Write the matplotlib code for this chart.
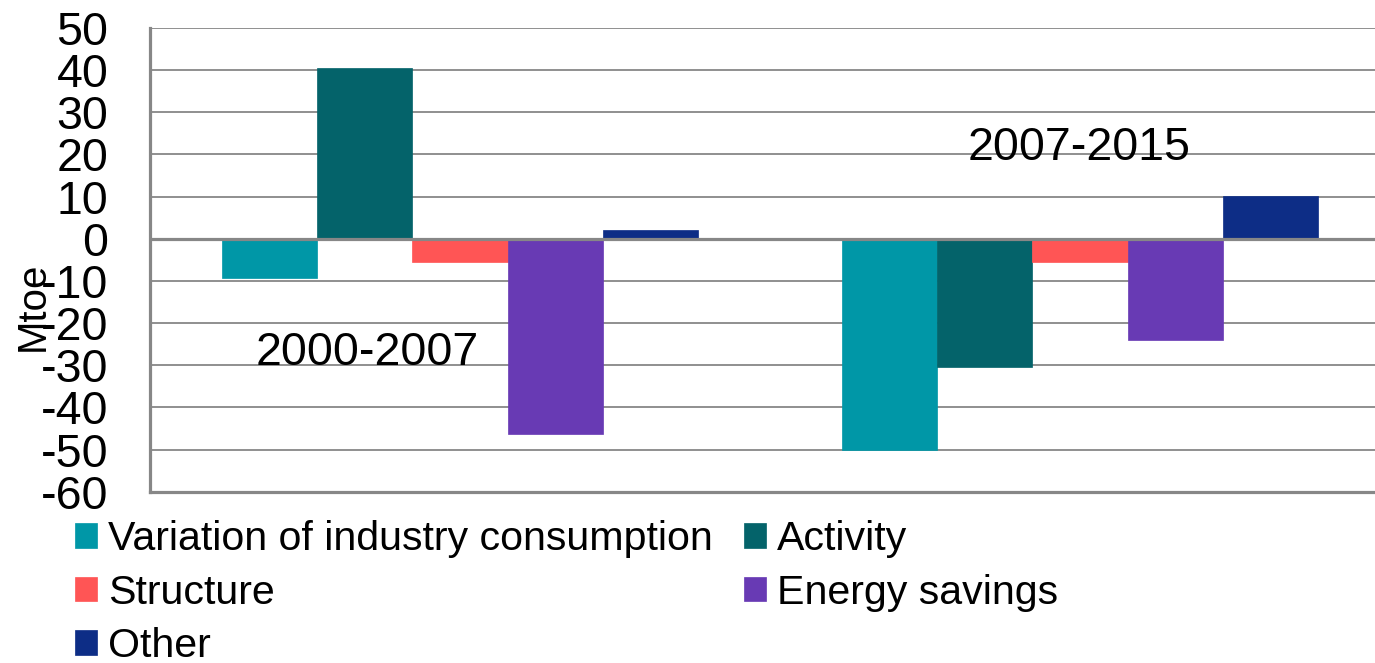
import numpy as np
import matplotlib
matplotlib.use("Agg")
import matplotlib.pyplot as plt

plt.rcParams['font.family'] = ['Liberation Sans', 'DejaVu Sans']

# data (Mtoe)
periods = ["2000-2007", "2007-2015"]
series = ["Variation of industry consumption", "Activity", "Structure",
          "Energy savings", "Other"]
variation = [-9.2, -50.2]
activity = [40.5, -30.5]
structure = [-5.6, -5.5]
savings = [-46.2, -24.0]
other = [2.0, 10.1]
values = [variation, activity, structure, savings, other]
colors = ["#0097A7", "#04636A", "#FF5555", "#683AB4", "#0D2D86"]

yticks = list(range(-60, 51, 10))
grid_col = "#878787"
fs = 33.5

fig = plt.figure(figsize=(13.75, 6.63), dpi=100)
# axes run a bit past the right edge, like the cropped original
ax = fig.add_axes([150 / 1375, (663 - 491.7) / 663, 1240 / 1375, 463.7 / 663])

x = np.arange(len(periods))
n = len(series)
w = 1 / (n + 1.5)
bars = []
for i, (vals, c) in enumerate(zip(values, colors)):
    b = ax.bar(x + (i - (n - 1) / 2) * w, vals, width=w, color=c,
               edgecolor=c, linewidth=0.5, zorder=2, label=series[i])
    bars.append(b)

ax.set_xlim(-0.5, len(periods) - 0.5)
ax.set_ylim(-60, 50)
ax.set_yticks(yticks)
ax.set_yticklabels([str(t) for t in yticks], fontsize=fs)
ax.tick_params(axis='y', length=0, pad=30)
ax.set_xticks([])
ax.yaxis.grid(True, color=grid_col, linewidth=1.3, zorder=0)
ax.set_axisbelow(True)
ax.axhline(0, color=grid_col, linewidth=2.3, zorder=3)
for s in ["top", "right"]:
    ax.spines[s].set_visible(False)
for s in ["left", "bottom"]:
    ax.spines[s].set_color(grid_col)
    ax.spines[s].set_linewidth(2.3)

# period labels
ax.text(-0.329, -30.0, periods[0], fontsize=fs, va='baseline', ha='left')
ax.text(0.818, 18.6, periods[1], fontsize=fs, va='baseline', ha='left')

fig.text(33 / 1375, 1 - 306 / 663, "Mtoe", rotation=90, fontsize=29,
         ha='center', va='center')

# legend: row-wise order in two columns
order = [0, 2, 4, 1, 3]
fig.legend([bars[i] for i in order], [series[i] for i in order],
           loc='upper left', bbox_to_anchor=(75 / 1375, 1 - 520 / 663),
           ncol=2, frameon=False, fontsize=29.6, handlelength=0.54,
           handleheight=0.54, handletextpad=0.27, columnspacing=0.75,
           labelspacing=0.38, borderaxespad=0, borderpad=0)

fig.savefig("out.png", dpi=100)
